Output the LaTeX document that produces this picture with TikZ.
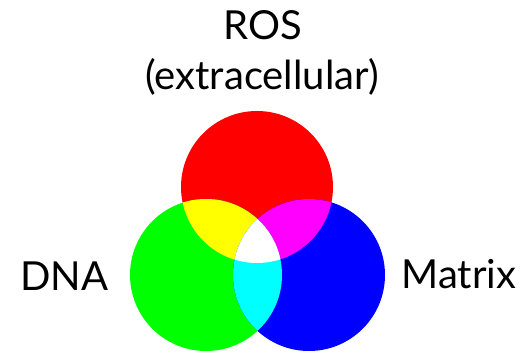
\documentclass[tikz,border=0pt]{standalone}
\usepackage{fontspec}
\setmainfont{Lato}
% pure additive RGB colours
\definecolor{pR}{RGB}{255,0,0}
\definecolor{pG}{RGB}{0,255,0}
\definecolor{pB}{RGB}{0,0,255}
\definecolor{pY}{RGB}{255,255,0}
\definecolor{pM}{RGB}{255,0,255}
\definecolor{pC}{RGB}{0,255,255}
\begin{document}
\begin{tikzpicture}[x=1pt,y=-1pt,
  lbl/.style={anchor=base,inner sep=0pt,font=\fontsize{40}{47}\selectfont}]
\useasboundingbox (0,0) rectangle (528,361);
% circle centres and radius
\def\rad{76}
\coordinate (cr) at (257,187);
\coordinate (cg) at (206,275);
\coordinate (cb) at (309,275);
% primaries
\fill[pR] (cr) circle (\rad);
\fill[pG] (cg) circle (\rad);
\fill[pB] (cb) circle (\rad);
% pairwise overlaps
\begin{scope}
  \clip (cr) circle (\rad);
  \fill[pY] (cg) circle (\rad);
  \fill[pM] (cb) circle (\rad);
\end{scope}
\begin{scope}
  \clip (cg) circle (\rad);
  \fill[pC] (cb) circle (\rad);
  \clip (cb) circle (\rad);
  \fill[white] (cr) circle (\rad);
\end{scope}
% labels
\node[lbl] (ros) at (263,40) {ROS};
\node[lbl] (ext) at (262,90) {(extracellular)};
\node[lbl] (dna) at (64.5,290.5) {DNA};
\node[lbl] (mat) at (459,288.5) {Matrix};
\end{tikzpicture}
\end{document}
